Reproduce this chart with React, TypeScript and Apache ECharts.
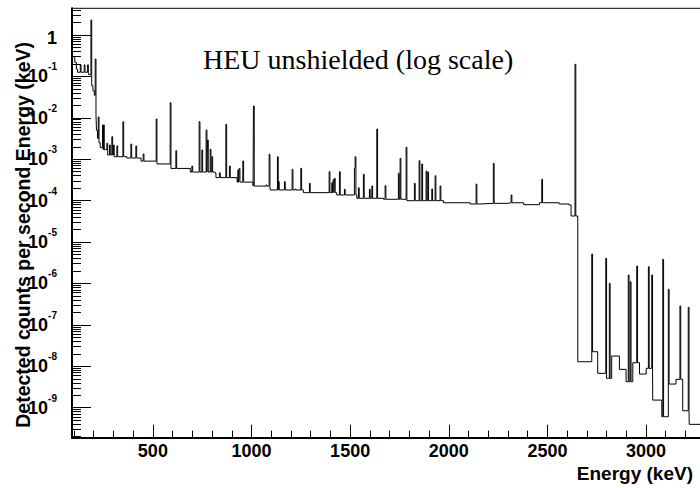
import React, { useEffect, useRef } from 'react';
import * as echarts from 'echarts';

// ---- data (keV, counts per second per keV) ----
const continuumEnergy = [
  90, 104, 112, 118, 175, 190, 196, 203, 210, 214, 219, 225, 233, 245, 268, 300, 368, 440, 520,
  590, 690, 816, 927, 1008, 1095, 1263, 1432, 1534, 1669, 1787, 1973, 2108, 2158, 2300, 2380,
  2460, 2560, 2610, 2620, 2654, 2725, 2755, 2796, 2826, 2865, 2899, 2933, 2967, 3001, 3034,
  3080, 3113, 3152, 3186, 3219,
];
const continuumCounts = [
  0.30, 0.22, 0.15, 0.126, 0.11, 0.06, 0.045, 0.035, 0.012, 0.005, 0.0032, 0.0025, 0.0019,
  0.0017, 0.00127, 0.00115, 0.00107, 0.0009, 0.00077, 0.0006, 0.00049, 0.00036, 0.00028,
  0.000225, 0.000181, 0.000156, 0.000137, 0.000114, 0.000108, 0.0000997, 0.000089, 0.000083,
  0.000086, 0.000089, 0.00008, 0.000089, 0.000083, 0.000079, 0.0000426, 1.29e-8, 2.25e-8,
  6.77e-9, 5.13e-9, 1.77e-8, 8.45e-9, 4.25e-9, 1.22e-8, 6.51e-9, 8.93e-9, 1.53e-9, 6.06e-10,
  3.73e-9, 4.85e-9, 8.45e-10, 3.97e-10,
];
const peakEnergy = [
  132, 152, 169, 186, 207.6, 223, 244.6, 249.6, 266.8, 280, 292, 300, 317.6, 348, 388.5, 413.8,
  450.8, 516.7, 587.7, 616.6, 697.7, 734.6, 748.3, 770, 776.7, 790.4, 799, 815.7, 837.5, 870,
  888.2, 930.8, 937.4, 956, 1009.8, 1074, 1089.4, 1131.5, 1136.5, 1167, 1206, 1221, 1250,
  1293.6, 1393.5, 1407, 1413.8, 1420.3, 1445.7, 1471, 1521.7, 1525.3, 1542, 1567.3, 1597.7,
  1610, 1635.2, 1677.3, 1744.7, 1753.3, 1783.7, 1825.8, 1849.6, 1863.3, 1885, 1893.7, 1914,
  1930.7, 1956, 2138.5, 2226, 2316, 2471.5, 2640, 2725, 2796, 2814, 2910, 2920, 2953, 3012,
  3029, 3085, 3113, 3172, 3214,
];
const peakCounts = [
  0.19, 0.19, 0.19, 2.3, 0.263, 0.0105, 0.0067, 0.0067, 0.00243, 0.0022, 0.0035, 0.0022,
  0.0021, 0.00806, 0.00233, 0.00209, 0.00134, 0.00937, 0.0232, 0.00161, 0.000686, 0.00806,
  0.00167, 0.00508, 0.00291, 0.00174, 0.00115, 0.000465, 0.00047, 0.00697, 0.000686, 0.00055,
  0.0006, 0.000906, 0.0193, 0.000239, 0.00132, 0.00115, 0.000287, 0.000287, 0.000571,
  0.000191, 0.000604, 0.000262, 0.0005, 0.000271, 0.00032, 0.000346, 0.0005, 0.000188,
  0.000604, 0.00115, 0.000205, 0.000433, 0.000188, 0.000226, 0.00537, 0.00023, 0.000457,
  0.00105, 0.00194, 0.000262, 0.000922, 0.000767, 0.00052, 0.00049, 0.000191, 0.0004,
  0.000226, 0.000252, 0.000797, 0.000137, 0.000328, 0.196, 5.14e-6, 4.05e-6, 1.01e-6, 1.6e-6,
  1.1e-6, 2.64e-6, 2.54e-6, 1.6e-6, 3.83e-6, 7.23e-7, 2.86e-7, 2.66e-7,
];
const xMajorTicks = [500, 1000, 1500, 2000, 2500, 3000];
const xMinorTicks = [
  100, 200, 300, 400, 600, 700, 800, 900, 1100, 1200, 1300, 1400, 1600, 1700, 1800, 1900, 2100,
  2200, 2300, 2400, 2600, 2700, 2800, 2900, 3100, 3200,
];
const yDecadeExponents = [-9, -8, -7, -6, -5, -4, -3, -2, -1, 0];
const yMinorMantissas = [2, 3, 4, 5, 6, 7, 8, 9];
const yMinorExponents = [-10, -9, -8, -7, -6, -5, -4, -3, -2, -1, 0];

const E_MIN = 90;
const E_MAX = 3300;
const Y_MIN = 1.89e-10;
const Y_MAX = 4.41;
const PEAK_WIDTH = 4;

function buildSteps(): [number, number][] {
  const pts = new Set<number>();
  continuumEnergy.forEach((e) => pts.add(e));
  peakEnergy.forEach((e) => {
    pts.add(e);
    pts.add(e + PEAK_WIDTH);
  });
  pts.add(E_MAX);
  const xs = Array.from(pts).sort((a, b) => a - b);
  return xs.map((x) => {
    let v = continuumCounts[0];
    for (let i = 0; i < continuumEnergy.length; i++) {
      if (continuumEnergy[i] <= x) v = continuumCounts[i];
    }
    peakEnergy.forEach((e, i) => {
      if (x >= e && x < e + PEAK_WIDTH && peakCounts[i] > v) v = peakCounts[i];
    });
    return [x, v];
  });
}

const FONT = 'Liberation Sans';

export default function App() {
  const ref = useRef<HTMLDivElement>(null);
  useEffect(() => {
    if (!ref.current) return;
    const chart = echarts.init(ref.current, undefined, { renderer: 'svg' });
    const yDecades = yDecadeExponents.map((k) => Math.pow(10, k));
    const yMinor: number[] = [];
    yMinorExponents.forEach((k) =>
      yMinorMantissas.forEach((m) => {
        const v = m * Math.pow(10, k);
        if (v > Y_MIN && v < Y_MAX) yMinor.push(v);
      })
    );
    const gridRect = { left: 72, top: 8.3, right: -5.2, bottom: 50.3 };
    chart.setOption({
      animation: false,
      backgroundColor: '#fff',
      grid: [
        { ...gridRect, show: true, borderColor: '#000', borderWidth: 1, containLabel: false, outerBoundsMode: 'none' },
        { ...gridRect, show: false, containLabel: false, outerBoundsMode: 'none' },
      ],
      xAxis: [
        {
          type: 'value',
          gridIndex: 0,
          min: E_MIN,
          max: E_MAX,
          axisLine: { show: true, lineStyle: { color: '#000', width: 2 } },
          axisTick: { show: true, inside: true, length: 13, customValues: xMajorTicks, lineStyle: { color: '#000', width: 1 } },
          axisLabel: {
            customValues: xMajorTicks,
            margin: 13,
            verticalAlign: 'middle',
            fontSize: 18,
            fontWeight: 'bold',
            fontFamily: FONT,
            color: '#000',
            formatter: (v: number) => String(v),
          },
          splitLine: { show: false },
        },
        {
          type: 'value',
          gridIndex: 1,
          min: E_MIN,
          max: E_MAX,
          axisLine: { show: false },
          axisTick: { show: true, inside: true, length: 7, customValues: xMinorTicks, lineStyle: { color: '#000', width: 1 } },
          axisLabel: { show: false },
          splitLine: { show: false },
        },
      ],
      yAxis: [
        {
          type: 'log',
          logBase: 10,
          gridIndex: 0,
          min: Y_MIN,
          max: Y_MAX,
          axisLine: { show: true, lineStyle: { color: '#000', width: 2 } },
          axisTick: { show: true, inside: true, length: 19, customValues: yDecades, lineStyle: { color: '#000', width: 1 } },
          axisLabel: {
            customValues: yDecades,
            margin: 15,
            formatter: (v: number) => {
              const k = Math.round(Math.log10(v));
              return k === 0 ? '{one|1}' : '{b|10}{s|' + k + '}';
            },
            rich: {
              b: { fontSize: 18, fontWeight: 'bold', fontFamily: FONT, color: '#000' },
              s: { fontSize: 10, fontWeight: 'bold', fontFamily: FONT, color: '#000', padding: [0, 0, 19, 0] },
              one: { fontSize: 18, fontWeight: 'bold', fontFamily: FONT, color: '#000', padding: [6, 0, 0, 0] },
            },
          },
          splitLine: { show: false },
        },
        {
          type: 'log',
          logBase: 10,
          gridIndex: 1,
          min: Y_MIN,
          max: Y_MAX,
          axisLine: { show: false },
          axisTick: { show: true, inside: true, length: 9, customValues: yMinor, lineStyle: { color: '#000', width: 1 } },
          axisLabel: { show: false },
          splitLine: { show: false },
        },
      ],
      series: [
        {
          type: 'line',
          xAxisIndex: 0,
          yAxisIndex: 0,
          data: buildSteps(),
          step: 'end',
          symbol: 'none',
          showSymbol: false,
          lineStyle: { color: '#000', width: 1 },
          clip: true,
        },
      ],
      graphic: [
        {
          type: 'text',
          x: 203,
          y: 59,
          style: {
            text: 'HEU unshielded (log scale)',
            fontSize: 28,
            fontFamily: 'Liberation Serif',
            fill: '#000',
            align: 'left',
            verticalAlign: 'middle',
          },
        },
        {
          type: 'text',
          x: 693,
          y: 473.5,
          style: {
            text: 'Energy (keV)',
            fontSize: 19,
            fontWeight: 'bold',
            fontFamily: FONT,
            fill: '#000',
            align: 'right',
            verticalAlign: 'middle',
          },
        },
        {
          type: 'text',
          x: 22.5,
          y: 42,
          rotation: Math.PI / 2,
          style: {
            text: 'Detected counts per second Energy (keV)',
            fontSize: 19.5,
            fontWeight: 'bold',
            fontFamily: FONT,
            fill: '#000',
            align: 'right',
            verticalAlign: 'middle',
          },
        },
      ],
    });
    return () => chart.dispose();
  }, []);
  return (
    <div
      ref={ref}
      style={{ position: 'fixed', left: 0, top: 0, width: 700, height: 488, overflow: 'hidden', background: '#fff' }}
    />
  );
}
